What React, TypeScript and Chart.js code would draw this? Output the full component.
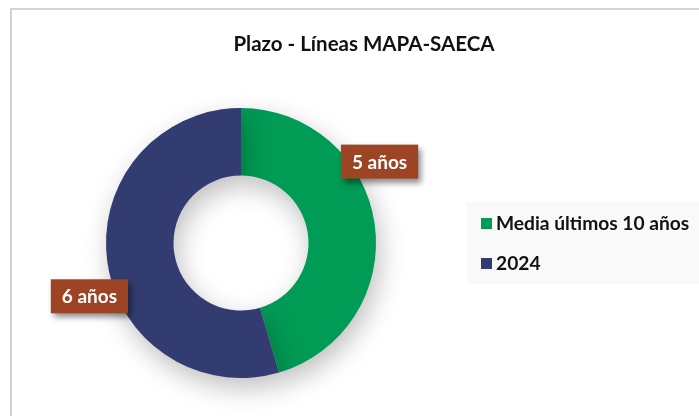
import React, { useEffect, useRef } from "react";
import { Chart, registerables } from "chart.js";

Chart.register(...registerables);

const chartTitle = "Plazo - Líneas MAPA-SAECA";
const categories = ["Media últimos 10 años", "2024"];
const values = [5, 6];
const valueLabels = ["5 años", "6 años"];
const colors = ["#009B55", "#333C70"];
const labelBoxColor = "#9D4425";
const FONT = "Lato, 'Open Sans', sans-serif";

const decorPlugin = {
  id: "decor",
  beforeDatasetsDraw(chart: any) {
    const ctx = chart.ctx;
    ctx.save();
    ctx.shadowColor = "rgba(0,0,0,0.25)";
    ctx.shadowBlur = 26;
    ctx.shadowOffsetX = 4;
    ctx.shadowOffsetY = 10;
  },
  afterDatasetsDraw(chart: any) {
    chart.ctx.restore();
  },
  beforeDraw(chart: any) {
    const ctx = chart.ctx;
    ctx.save();
    ctx.fillStyle = "#ffffff";
    ctx.fillRect(0, 0, chart.width, chart.height);
    ctx.strokeStyle = "#d2d2d2";
    ctx.lineWidth = 2;
    ctx.strokeRect(11, 9, chart.width + 20, chart.height + 20);
    ctx.restore();
  },
  afterDraw(chart: any) {
    const ctx = chart.ctx;
    ctx.save();
    // title
    ctx.fillStyle = "#111111";
    ctx.font = `bold 20.5px ${FONT}`;
    ctx.textAlign = "center";
    ctx.textBaseline = "middle";
    ctx.fillText(chartTitle, 364, 44);

    // legend
    ctx.fillStyle = "#f9f9f9";
    ctx.fillRect(467, 202, 240, 82);
    ctx.font = `bold 19.2px ${FONT}`;
    ctx.textAlign = "left";
    categories.forEach((c, i) => {
      const y = 223 + i * 40;
      ctx.fillStyle = colors[i];
      ctx.fillRect(481, y - 5, 11, 11);
      ctx.fillStyle = "#111111";
      ctx.fillText(c, 496, y + 1);
    });

    // data labels
    const meta = chart.getDatasetMeta(0);
    const fracs = [0.364, 0.443];
    meta.data.forEach((arc: any, i: number) => {
      const p = arc.getProps(["x", "y", "startAngle", "endAngle", "outerRadius"], true);
      const ang = p.startAngle + (p.endAngle - p.startAngle) * fracs[i];
      const r = p.outerRadius * 1.19;
      const cx = p.x + Math.cos(ang) * r;
      const cy = p.y + Math.sin(ang) * r;
      ctx.font = `bold 19px ${FONT}`;
      const w = ctx.measureText(valueLabels[i]).width + 22;
      const h = 34;
      ctx.save();
      ctx.shadowColor = "rgba(0,0,0,0.45)";
      ctx.shadowBlur = 6;
      ctx.shadowOffsetX = 3;
      ctx.shadowOffsetY = 4;
      ctx.fillStyle = labelBoxColor;
      ctx.fillRect(cx - w / 2, cy - h / 2, w, h);
      ctx.restore();
      ctx.fillStyle = "#ffffff";
      ctx.textAlign = "center";
      ctx.fillText(valueLabels[i], cx, cy + 1);
    });
    ctx.restore();
  },
};

export default function App() {
  const ref = useRef<HTMLCanvasElement>(null);
  useEffect(() => {
    document.body.style.margin = "0";
    const chart = new Chart(ref.current!, {
      type: "doughnut",
      data: {
        labels: categories,
        datasets: [
          {
            data: values,
            backgroundColor: colors,
            borderWidth: 0,
          },
        ],
      },
      options: {
        animation: false,
        responsive: false,
        cutout: "50%",
        layout: { padding: { left: 106, top: 108, right: 323, bottom: 38 } },
        plugins: {
          legend: { display: false },
          title: { display: false },
          tooltip: { enabled: false },
        },
      },
      plugins: [decorPlugin],
    });
    return () => chart.destroy();
  }, []);
  return (
    <div style={{ width: 699, height: 416 }}>
      <canvas ref={ref} width={699} height={416} />
    </div>
  );
}
